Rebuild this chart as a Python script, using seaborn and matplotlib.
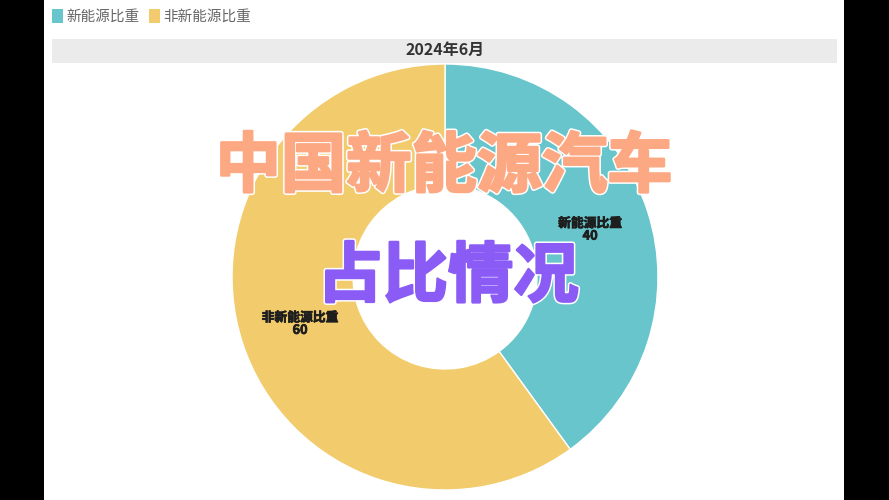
import matplotlib
matplotlib.use("Agg")
import matplotlib.pyplot as plt
import matplotlib.patches as mpatches
import matplotlib.patheffects as pe
import numpy as np
import seaborn as sns

categories = ["新能源比重", "非新能源比重"]
values = [40, 60]
title = "2024年6月"
headline1 = "中国新能源汽车"
headline2 = "占比情况"

sns.set_theme(style="white")
plt.rcParams['font.family'] = ['Noto Sans CJK SC', 'DejaVu Sans']
colors = ["#67C5CB", "#F2CC6C"]

W, H = 889, 500
fig = plt.figure(figsize=(W / 100, H / 100), dpi=100, facecolor="black")

def fx(px):
    return px / W

def fy(py):
    return 1 - py / H

# white panel
fig.patches.append(mpatches.Rectangle((fx(44), 0), fx(844) - fx(44), 1,
                                      transform=fig.transFigure, facecolor="white",
                                      edgecolor="none", zorder=-3))
# title bar
fig.patches.append(mpatches.Rectangle((fx(52), fy(63)), fx(837) - fx(52), fy(39) - fy(63),
                                      transform=fig.transFigure, facecolor="#EBEBEB",
                                      edgecolor="none", zorder=-2))
fig.text(fx(445), fy(50), title, ha="center", va="center", fontsize=11.5,
         fontweight="bold", color="#333333")

# legend
handles = [mpatches.Patch(facecolor=c, edgecolor="none") for c in colors]
leg = fig.legend(handles, categories, loc="upper left", bbox_to_anchor=(fx(39), fy(-4)),
                 ncol=2, frameon=False, fontsize=10.5, handlelength=0.75, handleheight=1.1,
                 handletextpad=0.25, columnspacing=0.6)
for t in leg.get_texts():
    t.set_color("#666666")

# donut
R_out, R_in = 213, 92
cx, cy = 445, 277
ax = fig.add_axes([fx(cx - R_out), fy(cy + R_out), 2 * R_out / W, 2 * R_out / H])
ax.set_zorder(1)
ax.patch.set_alpha(0)
wedges, _ = ax.pie(values, colors=colors, startangle=90, counterclock=False,
                   radius=1, wedgeprops=dict(width=1 - R_in / R_out, edgecolor="white",
                                             linewidth=1))
ax.set_xlim(-1, 1)
ax.set_ylim(-1, 1)
ax.set_aspect("equal")
ax.axis("off")

total = sum(values)
start = 90
r_lab = (1 + R_in / R_out) / 2
for cat, v in zip(categories, values):
    mid = start - v / total * 180
    ang = np.deg2rad(mid)
    x, y = r_lab * np.cos(ang), r_lab * np.sin(ang)
    ax.text(x, y, f"{cat}\n{v}", ha="center", va="center", fontsize=9.2,
            fontweight="bold", color="#1E1E1E", linespacing=0.95,
            path_effects=[pe.withStroke(linewidth=0.5, foreground="#1E1E1E")])
    start -= v / total * 360

# headline overlays
def heavy(color):
    return [pe.withStroke(linewidth=4, foreground="white"),
            pe.withStroke(linewidth=1.8, foreground=color)]

t1 = fig.text(fx(444), fy(167), headline1, ha="center", va="center", fontsize=47,
              fontweight="black", color="#FCA882", path_effects=heavy("#FCA882"))
t2 = fig.text(fx(448), fy(277), headline2, ha="center", va="center", fontsize=47,
              fontweight="black", color="#8A5CF5", path_effects=heavy("#8A5CF5"))
t1.set_zorder(5)
t2.set_zorder(5)

fig.savefig("out.png", dpi=100, facecolor=fig.get_facecolor())
